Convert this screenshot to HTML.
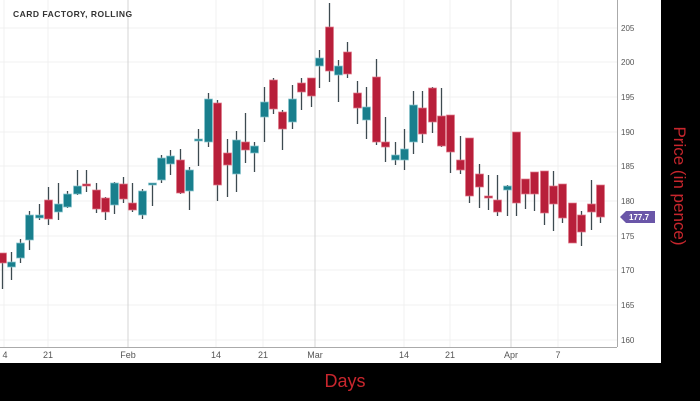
<!DOCTYPE html>
<html><head><meta charset="utf-8"><style>
html,body{margin:0;padding:0;background:#000;}
svg{display:block;font-family:"Liberation Sans",sans-serif;}
.w{stroke:#3d4a50;stroke-width:1.3}
.r{fill:#b81f3a;stroke:#e07a8a;stroke-width:0.7}
.t{fill:#197f8d;stroke:#8cc6cf;stroke-width:0.7}
</style></head><body>
<svg width="700" height="401" viewBox="0 0 700 401" xmlns="http://www.w3.org/2000/svg">
<rect x="0" y="0" width="700" height="401" fill="#000"/>
<rect x="0" y="0" width="661" height="363" fill="#fff"/>
<g stroke="#f0f0f0" stroke-width="1">
<line x1="0" y1="28" x2="617" y2="28"/><line x1="0" y1="62" x2="617" y2="62"/><line x1="0" y1="97" x2="617" y2="97"/><line x1="0" y1="132" x2="617" y2="132"/><line x1="0" y1="201" x2="617" y2="201"/><line x1="0" y1="236" x2="617" y2="236"/><line x1="0" y1="270" x2="617" y2="270"/><line x1="0" y1="305" x2="617" y2="305"/><line x1="0" y1="340" x2="617" y2="340"/><line x1="0" y1="166" x2="617" y2="166"/>
<line x1="4" y1="0" x2="4" y2="347"/><line x1="48" y1="0" x2="48" y2="347"/><line x1="216" y1="0" x2="216" y2="347"/><line x1="263" y1="0" x2="263" y2="347"/><line x1="404" y1="0" x2="404" y2="347"/><line x1="450" y1="0" x2="450" y2="347"/><line x1="558" y1="0" x2="558" y2="347"/>
</g>
<g stroke="#d4d4d4" stroke-width="1">
<line x1="128" y1="0" x2="128" y2="347"/><line x1="315" y1="0" x2="315" y2="347"/><line x1="511" y1="0" x2="511" y2="347"/>
</g>
<line x1="0" y1="347.5" x2="617" y2="347.5" stroke="#aaa"/>
<line x1="617.5" y1="0" x2="617.5" y2="347" stroke="#aaa"/>
<g font-size="8" fill="#555">
<text x="621" y="31">205</text><text x="621" y="65">200</text><text x="621" y="100">195</text><text x="621" y="135">190</text><text x="621" y="169">185</text><text x="621" y="204">180</text><text x="621" y="239">175</text><text x="621" y="273">170</text><text x="621" y="308">165</text><text x="621" y="343">160</text>
</g>
<g font-size="9" fill="#555" text-anchor="middle">
<text x="5" y="358">4</text><text x="48" y="358">21</text><text x="128" y="358">Feb</text><text x="216" y="358">14</text><text x="263" y="358">21</text><text x="315" y="358">Mar</text><text x="404" y="358">14</text><text x="450" y="358">21</text><text x="511" y="358">Apr</text><text x="558" y="358">7</text>
</g>
<text x="13" y="17" font-size="8.5" font-weight="bold" fill="#333" letter-spacing="0.5">CARD FACTORY, ROLLING</text>
<g class="w">
<line x1="2.5" y1="253" x2="2.5" y2="289"/><line x1="11.5" y1="252" x2="11.5" y2="280"/><line x1="20.5" y1="239" x2="20.5" y2="263"/><line x1="29.5" y1="211" x2="29.5" y2="250"/><line x1="39.5" y1="204" x2="39.5" y2="220"/><line x1="48.5" y1="187" x2="48.5" y2="225"/><line x1="58.5" y1="183" x2="58.5" y2="220"/><line x1="67.5" y1="191" x2="67.5" y2="208"/><line x1="77.5" y1="170" x2="77.5" y2="195"/><line x1="86.5" y1="170" x2="86.5" y2="192"/><line x1="96.5" y1="183" x2="96.5" y2="213"/><line x1="105.5" y1="197" x2="105.5" y2="220"/><line x1="114.5" y1="182" x2="114.5" y2="214"/><line x1="123.5" y1="177" x2="123.5" y2="203"/><line x1="132.5" y1="183" x2="132.5" y2="212"/><line x1="142.5" y1="189" x2="142.5" y2="219"/><line x1="152.5" y1="183" x2="152.5" y2="206"/><line x1="161.5" y1="155" x2="161.5" y2="183"/><line x1="170.5" y1="150" x2="170.5" y2="175"/><line x1="180.5" y1="149" x2="180.5" y2="194"/><line x1="189.5" y1="167" x2="189.5" y2="210"/><line x1="198.5" y1="129" x2="198.5" y2="166"/><line x1="208.5" y1="93" x2="208.5" y2="147"/><line x1="217.5" y1="100" x2="217.5" y2="201"/><line x1="227.5" y1="139" x2="227.5" y2="197"/><line x1="236.5" y1="131" x2="236.5" y2="192"/><line x1="245.5" y1="113" x2="245.5" y2="163"/><line x1="254.5" y1="142" x2="254.5" y2="172"/><line x1="264.5" y1="87" x2="264.5" y2="142"/><line x1="273.5" y1="78" x2="273.5" y2="114"/><line x1="282.5" y1="110" x2="282.5" y2="150"/><line x1="292.5" y1="85" x2="292.5" y2="129"/><line x1="301.5" y1="78" x2="301.5" y2="110"/><line x1="311.5" y1="78" x2="311.5" y2="107"/><line x1="319.5" y1="50" x2="319.5" y2="88"/><line x1="329.5" y1="3" x2="329.5" y2="82"/><line x1="338.5" y1="60" x2="338.5" y2="102"/><line x1="347.5" y1="42" x2="347.5" y2="78"/><line x1="357.5" y1="81" x2="357.5" y2="124"/><line x1="366.5" y1="87" x2="366.5" y2="139"/><line x1="376.5" y1="59" x2="376.5" y2="145"/><line x1="385.5" y1="117" x2="385.5" y2="162"/><line x1="395.5" y1="142" x2="395.5" y2="165"/><line x1="404.5" y1="129" x2="404.5" y2="170"/><line x1="413.5" y1="91" x2="413.5" y2="154"/><line x1="422.5" y1="91" x2="422.5" y2="143"/><line x1="432.5" y1="87" x2="432.5" y2="133"/><line x1="441.5" y1="88" x2="441.5" y2="147"/><line x1="450.5" y1="115" x2="450.5" y2="173"/><line x1="460.5" y1="136" x2="460.5" y2="174"/><line x1="469.5" y1="138" x2="469.5" y2="203"/><line x1="479.5" y1="164" x2="479.5" y2="208"/><line x1="488.5" y1="175" x2="488.5" y2="210"/><line x1="497.5" y1="175" x2="497.5" y2="216"/><line x1="507.5" y1="185" x2="507.5" y2="216"/><line x1="516.5" y1="132" x2="516.5" y2="216"/><line x1="525.5" y1="179" x2="525.5" y2="209"/><line x1="534.5" y1="172" x2="534.5" y2="211"/><line x1="544.5" y1="171" x2="544.5" y2="225"/><line x1="553.5" y1="171" x2="553.5" y2="231"/><line x1="562.5" y1="184" x2="562.5" y2="223"/><line x1="572.5" y1="203" x2="572.5" y2="243"/><line x1="581.5" y1="211" x2="581.5" y2="246"/><line x1="591.5" y1="180" x2="591.5" y2="230"/><line x1="600.5" y1="185" x2="600.5" y2="223"/>
</g>
<g>
<rect class="r" x="-1.5" y="253" width="8" height="10"/><rect class="t" x="7.5" y="262" width="8" height="5"/><rect class="t" x="16.5" y="243" width="8" height="15"/><rect class="t" x="25.5" y="215" width="8" height="25"/><rect class="t" x="35.5" y="215" width="8" height="3"/><rect class="r" x="44.5" y="200" width="8" height="19"/><rect class="t" x="54.5" y="204" width="8" height="8"/><rect class="t" x="63.5" y="194" width="8" height="13"/><rect class="t" x="73.5" y="186" width="8" height="8"/><rect class="r" x="82.5" y="184" width="8" height="2"/><rect class="r" x="92.5" y="190" width="8" height="19"/><rect class="r" x="101.5" y="198" width="8" height="14"/><rect class="t" x="110.5" y="183" width="8" height="22"/><rect class="r" x="119.5" y="184" width="8" height="15"/><rect class="r" x="128.5" y="203" width="8" height="7"/><rect class="t" x="138.5" y="191" width="8" height="24"/><rect class="t" x="148.5" y="183" width="8" height="2"/><rect class="t" x="157.5" y="158" width="8" height="22"/><rect class="t" x="166.5" y="156" width="8" height="8"/><rect class="r" x="176.5" y="160" width="8" height="33"/><rect class="t" x="185.5" y="170" width="8" height="21"/><rect class="t" x="194.5" y="139" width="8" height="2"/><rect class="t" x="204.5" y="99" width="8" height="43"/><rect class="r" x="213.5" y="103" width="8" height="82"/><rect class="r" x="223.5" y="153" width="8" height="12"/><rect class="t" x="232.5" y="140" width="8" height="34"/><rect class="r" x="241.5" y="142" width="8" height="8"/><rect class="t" x="250.5" y="146" width="8" height="7"/><rect class="t" x="260.5" y="102" width="8" height="15"/><rect class="r" x="269.5" y="80" width="8" height="29"/><rect class="r" x="278.5" y="112" width="8" height="17"/><rect class="t" x="288.5" y="99" width="8" height="23"/><rect class="r" x="297.5" y="83" width="8" height="9"/><rect class="r" x="307.5" y="78" width="8" height="18"/><rect class="t" x="315.5" y="58" width="8" height="8"/><rect class="r" x="325.5" y="27" width="8" height="44"/><rect class="t" x="334.5" y="66" width="8" height="9"/><rect class="r" x="343.5" y="52" width="8" height="22"/><rect class="r" x="353.5" y="93" width="8" height="15"/><rect class="t" x="362.5" y="107" width="8" height="13"/><rect class="r" x="372.5" y="77" width="8" height="65"/><rect class="r" x="381.5" y="142" width="8" height="5"/><rect class="t" x="391.5" y="155" width="8" height="5"/><rect class="t" x="400.5" y="149" width="8" height="11"/><rect class="t" x="409.5" y="105" width="8" height="37"/><rect class="r" x="418.5" y="108" width="8" height="26"/><rect class="r" x="428.5" y="88" width="8" height="34"/><rect class="r" x="437.5" y="116" width="8" height="30"/><rect class="r" x="446.5" y="115" width="8" height="37"/><rect class="r" x="456.5" y="160" width="8" height="10"/><rect class="r" x="465.5" y="138" width="8" height="58"/><rect class="r" x="475.5" y="174" width="8" height="13"/><rect class="r" x="484.5" y="196" width="8" height="2"/><rect class="r" x="493.5" y="200" width="8" height="12"/><rect class="t" x="503.5" y="186" width="8" height="4"/><rect class="r" x="512.5" y="132" width="8" height="71"/><rect class="r" x="521.5" y="179" width="8" height="15"/><rect class="r" x="530.5" y="172" width="8" height="22"/><rect class="r" x="540.5" y="171" width="8" height="42"/><rect class="r" x="549.5" y="186" width="8" height="18"/><rect class="r" x="558.5" y="184" width="8" height="34"/><rect class="r" x="568.5" y="203" width="8" height="40"/><rect class="r" x="577.5" y="215" width="8" height="17"/><rect class="r" x="587.5" y="204" width="8" height="8"/><rect class="r" x="596.5" y="185" width="8" height="32"/>
</g>
<path d="M620 217 L626 211 L655 211 L655 223 L626 223 Z" fill="#6a56a8"/>
<text x="629" y="220" font-size="8" font-weight="bold" fill="#fff">177.7</text>
<text x="345" y="387" font-size="18" fill="#c8262d" text-anchor="middle">Days</text>
<text transform="translate(674,186) rotate(90)" font-size="17" fill="#c8262d" text-anchor="middle">Price (in pence)</text>
</svg>
</body></html>
